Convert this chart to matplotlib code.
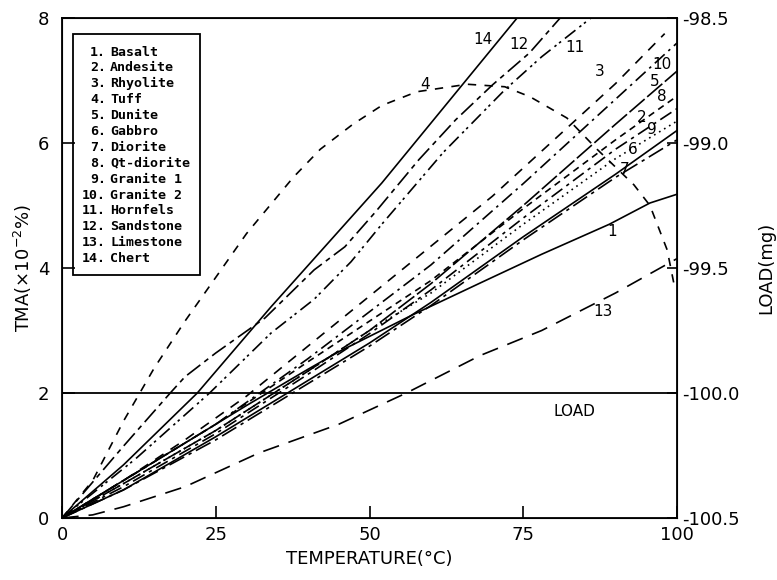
import matplotlib
matplotlib.use("Agg")
import matplotlib.pyplot as plt

# ---- data ----
names = ["Basalt", "Andesite", "Rhyolite", "Tuff", "Dunite", "Gabbro", "Diorite",
         "Qt-diorite", "Granite 1", "Granite 2", "Hornfels", "Sandstone", "Limestone", "Chert"]

t_std = [0, 10, 25, 40, 50, 60, 75, 90, 100]

t1 = [0, 10, 20, 30, 40, 45, 57, 68, 78, 89, 95.6, 100]
y1 = [0, 0.6, 1.2, 1.8, 2.38, 2.66, 3.25, 3.76, 4.22, 4.7, 5.04, 5.18]
t2 = t_std
y2 = [0, 0.5, 1.35, 2.3, 2.95, 3.65, 4.8, 5.9, 6.55]
t3 = [0, 10, 20, 30, 40, 50, 60, 70, 80, 90, 98]
y3 = [0, 0.6, 1.25, 1.95, 2.75, 3.55, 4.35, 5.15, 6.05, 6.95, 7.75]
t4 = [0, 5, 10, 15, 20, 25, 30, 37.6, 42, 47.3, 52, 57.7, 65.9, 72, 76.1, 82.1, 87, 93, 95.6, 98.4, 99.7]
y4 = [0, 0.6, 1.55, 2.4, 3.15, 3.85, 4.55, 5.45, 5.9, 6.3, 6.6, 6.82, 6.94, 6.9, 6.74, 6.4, 5.9, 5.33, 5.0, 4.29, 3.65]
t5 = t_std
y5 = [0, 0.55, 1.4, 2.35, 3.0, 3.75, 5.0, 6.3, 7.15]
t6 = t_std
y6 = [0, 0.45, 1.3, 2.2, 2.8, 3.45, 4.5, 5.5, 6.2]
t7 = t_std
y7 = [0, 0.45, 1.25, 2.15, 2.75, 3.4, 4.45, 5.45, 6.05]
t8 = t_std
y8 = [0, 0.6, 1.5, 2.5, 3.15, 3.8, 4.95, 6.05, 6.75]
t9 = t_std
y9 = [0, 0.55, 1.4, 2.35, 3.0, 3.6, 4.7, 5.75, 6.35]
t10 = t_std
y10 = [0, 0.6, 1.5, 2.55, 3.3, 4.05, 5.35, 6.7, 7.6]
t11 = [0, 12, 24, 34, 41, 47, 52, 62, 72, 78, 86]
y11 = [0, 0.95, 2.0, 2.96, 3.5, 4.1, 4.7, 5.85, 6.85, 7.38, 8.0]
t12 = [0, 10, 17.6, 20, 25, 33, 41, 46, 51, 58, 64, 70, 76, 81]
y12 = [0, 1.15, 2.0, 2.26, 2.64, 3.2, 3.97, 4.34, 4.9, 5.73, 6.37, 6.93, 7.44, 8.0]
t13 = [0, 5, 10, 20, 32, 45, 56, 68, 78, 90, 100]
y13 = [0, 0.05, 0.18, 0.5, 1.04, 1.5, 2.0, 2.6, 3.0, 3.6, 4.15]
t14 = [0, 10, 22, 34, 52, 74]
y14 = [0, 0.85, 2.0, 3.38, 5.36, 8.0]

load_level = 2.0

curve_labels = ["1", "2", "3", "4", "5", "6", "7", "8", "9", "10", "11", "12", "13", "14"]
label_x = [89.4, 94.3, 87.5, 59, 96.4, 92.8, 91.5, 97.6, 95.9, 97.6, 83.4, 74.3, 88, 68.5]
label_y = [4.58, 6.4, 7.14, 6.93, 6.98, 5.89, 5.57, 6.74, 6.21, 7.25, 7.52, 7.57, 3.3, 7.65]

right_ticks = [98.5, 99.0, 99.5, 100.0, 100.5]

# ---- styles ----
styles = ['-', (0, (8, 3, 2, 3)), (0, (6, 5)), (0, (5, 5)), (0, (12, 2)), '-',
          (0, (10, 3, 2, 3)), (0, (4, 3)), (0, (1, 2.5)), (0, (8, 3, 1.5, 3)),
          (0, (8, 3, 1.5, 2, 1.5, 3)), (0, (10, 3, 3, 3)), (0, (10, 6)), '-']

ts = [t1, t2, t3, t4, t5, t6, t7, t8, t9, t10, t11, t12, t13, t14]
ys = [y1, y2, y3, y4, y5, y6, y7, y8, y9, y10, y11, y12, y13, y14]

fig = plt.figure(figsize=(7.77, 5.8), dpi=100)
ax = fig.add_axes([62/777, 62/580, 615/777, 500/580])

for t, y, ls in zip(ts, ys, styles):
    ax.plot(t, y, color='black', lw=1.2, linestyle=ls, clip_on=True)

ax.axhline(load_level, color='black', lw=1.3)
ax.text(83.4, 1.82, "LOAD", ha='center', va='top', fontsize=11)

for lab, lx, ly in zip(curve_labels, label_x, label_y):
    ax.text(lx, ly, lab, ha='center', va='center', fontsize=11)

ax.set_xlim(0, 100)
ax.set_ylim(0, 8)
ax.set_xticks([0, 25, 50, 75, 100])
ax.set_xticklabels(["0", "25", "50", "75", "100"])
ax.set_yticks([0, 2, 4, 6, 8])
ax.tick_params(axis='both', direction='in', length=9, width=1.2, labelsize=13)
ax.tick_params(axis='x', pad=6)
ax.tick_params(axis='y', pad=9)
for s in ax.spines.values():
    s.set_linewidth(1.3)

ax.set_xlabel("TEMPERATURE(°C)", fontsize=13, labelpad=4)
ax.set_ylabel("TMA(×10$^{-2}$%)", fontsize=13, labelpad=3)

ax2 = ax.twinx()
ax2.set_ylim(100.5, 98.5)
ax2.set_yticks(right_ticks)
ax2.set_yticklabels(["-" + f"{v:.1f}" for v in right_ticks])
ax2.tick_params(axis='y', direction='in', length=7, width=1.2, labelsize=13, pad=4)
ax2.set_ylabel("LOAD(mg)", fontsize=13, labelpad=12)

# legend box
lx0, lx1 = (73-62)/615, (200-62)/615
ly_top, ly_bot = (518-34)/500, (518-275)/500
ax.add_patch(plt.Rectangle((lx0, ly_bot), lx1-lx0, ly_top-ly_bot, transform=ax.transAxes,
                           fill=False, lw=1.3, color='black'))
for i, nm in enumerate(names):
    yy = (518 - (52 + i*15.9)) / 500
    ax.text((106-62)/615, yy, f"{i+1}.", transform=ax.transAxes, ha='right', va='center',
            fontsize=9.5, fontweight='bold', family='DejaVu Sans Mono')
    ax.text((110-62)/615, yy, nm, transform=ax.transAxes, ha='left', va='center',
            fontsize=9.5, fontweight='bold', family='DejaVu Sans Mono')

fig.savefig("out.png", dpi=100)
